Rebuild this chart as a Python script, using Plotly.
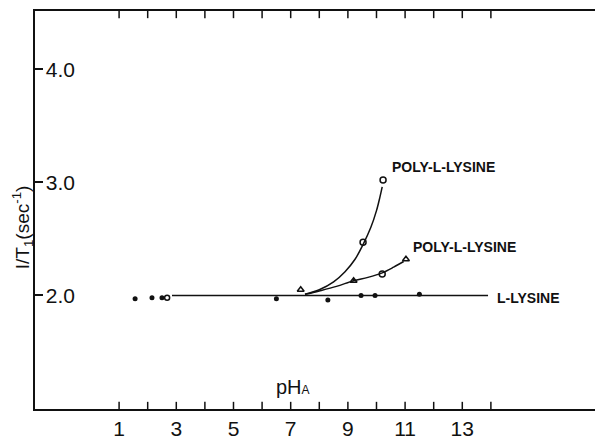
import plotly.graph_objects as go

# ---- data ----
# L-lysine (baseline) measured points
lys_ph = [1.56, 2.15, 2.5, 6.5, 8.3, 9.46, 9.95, 11.5]
lys_r = [1.97, 1.98, 1.98, 1.97, 1.96, 2.0, 2.0, 2.01]
lys_open_ph = [2.68]
lys_open_r = [1.98]
lys_line_ph = [2.85, 13.9]
lys_line_r = [2.0, 2.0]

# Poly-L-lysine (upper curve) points and drawn curve
poly1_ph = [9.53, 10.23]
poly1_r = [2.47, 3.02]
poly1_curve_ph = [7.5, 8.0, 8.5, 8.9, 9.25, 9.53, 9.8, 10.0, 10.12, 10.2]
poly1_curve_r = [2.01, 2.05, 2.12, 2.21, 2.32, 2.45, 2.6, 2.75, 2.87, 2.96]

# Poly-L-lysine (lower curve)
poly2_tri_ph = [7.35, 9.2, 11.03]
poly2_tri_r = [2.05, 2.13, 2.32]
poly2_open_ph = [10.2]
poly2_open_r = [2.19]
poly2_curve_ph = [7.5, 8.0, 8.6, 9.2, 9.7, 10.2, 10.6, 10.95]
poly2_curve_r = [2.01, 2.04, 2.08, 2.13, 2.16, 2.2, 2.25, 2.3]

x_all_ticks = list(range(1, 15))
x_major = [1, 3, 5, 7, 9, 11, 13]
x_ticktext = ["1", "3", "5", "7", "9", "11", "13"]
y_ticks = [2, 3, 4]
y_ticktext = ["2.0", "3.0", "4.0"]
x_range = [-1.94, 17.64]
y_range = [0.996, 4.515]

labels = [
    ("POLY-L-LYSINE", 10.48, 3.135),
    ("POLY-L-LYSINE", 11.21, 2.43),
    ("L-LYSINE", 14.15, 1.975),
]

fig = go.Figure()
blk = "#111"

fig.add_trace(go.Scatter(x=lys_line_ph, y=lys_line_r, mode="lines",
                         line=dict(color=blk, width=1.5), showlegend=False))
fig.add_trace(go.Scatter(x=poly1_curve_ph, y=poly1_curve_r, mode="lines",
                         line=dict(color=blk, width=1.5, shape="spline"), showlegend=False))
fig.add_trace(go.Scatter(x=poly2_curve_ph, y=poly2_curve_r, mode="lines",
                         line=dict(color=blk, width=1.5, shape="spline"), showlegend=False))
fig.add_trace(go.Scatter(x=lys_ph, y=lys_r, mode="markers",
                         marker=dict(symbol="circle", size=5, color=blk), showlegend=False))
fig.add_trace(go.Scatter(x=lys_open_ph, y=lys_open_r, mode="markers",
                         marker=dict(symbol="circle-open", size=5, color=blk, line=dict(width=1.5)),
                         showlegend=False))
fig.add_trace(go.Scatter(x=poly1_ph, y=poly1_r, mode="markers",
                         marker=dict(symbol="circle-open", size=6, color=blk, line=dict(width=1.5)),
                         showlegend=False))
fig.add_trace(go.Scatter(x=poly2_tri_ph, y=poly2_tri_r, mode="markers",
                         marker=dict(symbol="triangle-up-open", size=6, color=blk, line=dict(width=1.5)),
                         showlegend=False))
fig.add_trace(go.Scatter(x=poly2_open_ph, y=poly2_open_r, mode="markers",
                         marker=dict(symbol="circle-open", size=6, color=blk, line=dict(width=1.5)),
                         showlegend=False))

# tick marks on the bottom and top frame lines, placed by the x axis scale
for v in x_all_ticks:
    fig.add_shape(type="line", xref="x", yref="paper", x0=v, x1=v, y0=0, y1=0.018,
                  line=dict(color=blk, width=1.5))
    fig.add_shape(type="line", xref="x", yref="paper", x0=v, x1=v, y0=1, y1=0.982,
                  line=dict(color=blk, width=1.5))

for txt, x, y in labels:
    fig.add_annotation(x=x, y=y, text="<b>" + txt + "</b>", showarrow=False, xanchor="left",
                       yanchor="middle",
                       font=dict(family="Liberation Sans", size=14, color=blk))

fig.add_annotation(x=7.08, y=1.19, text="pH<span style='font-size:12px'>A</span>", showarrow=False,
                   xanchor="center", yanchor="middle",
                   font=dict(family="Liberation Sans", size=20, color=blk))

fig.add_annotation(x=-0.023, y=0.457, xref="paper", yref="paper",
                   text="I/T<sub>1</sub>(sec<sup>-1</sup>)", showarrow=False, textangle=-90,
                   xanchor="center", yanchor="middle",
                   font=dict(family="Liberation Sans", size=19, color=blk))

fig.update_layout(
    width=595, height=440,
    margin=dict(l=35, r=0, t=11, b=26),
    paper_bgcolor="white", plot_bgcolor="white",
    xaxis=dict(range=x_range, tickmode="array", tickvals=x_major, ticktext=x_ticktext,
               ticks="", showline=True, linecolor=blk, linewidth=2, mirror=True,
               showgrid=False, zeroline=False,
               tickfont=dict(family="Liberation Sans", size=21, color=blk)),
    yaxis=dict(range=y_range, tickvals=y_ticks, ticktext=y_ticktext,
               ticks="inside", ticklen=8, tickwidth=2, tickcolor=blk,
               ticklabelposition="inside", ticklabelstandoff=4,
               showline=True, linecolor=blk, linewidth=2,
               showgrid=False, zeroline=False,
               tickfont=dict(family="Liberation Sans", size=21, color=blk)),
)

fig.write_html("out.html")
